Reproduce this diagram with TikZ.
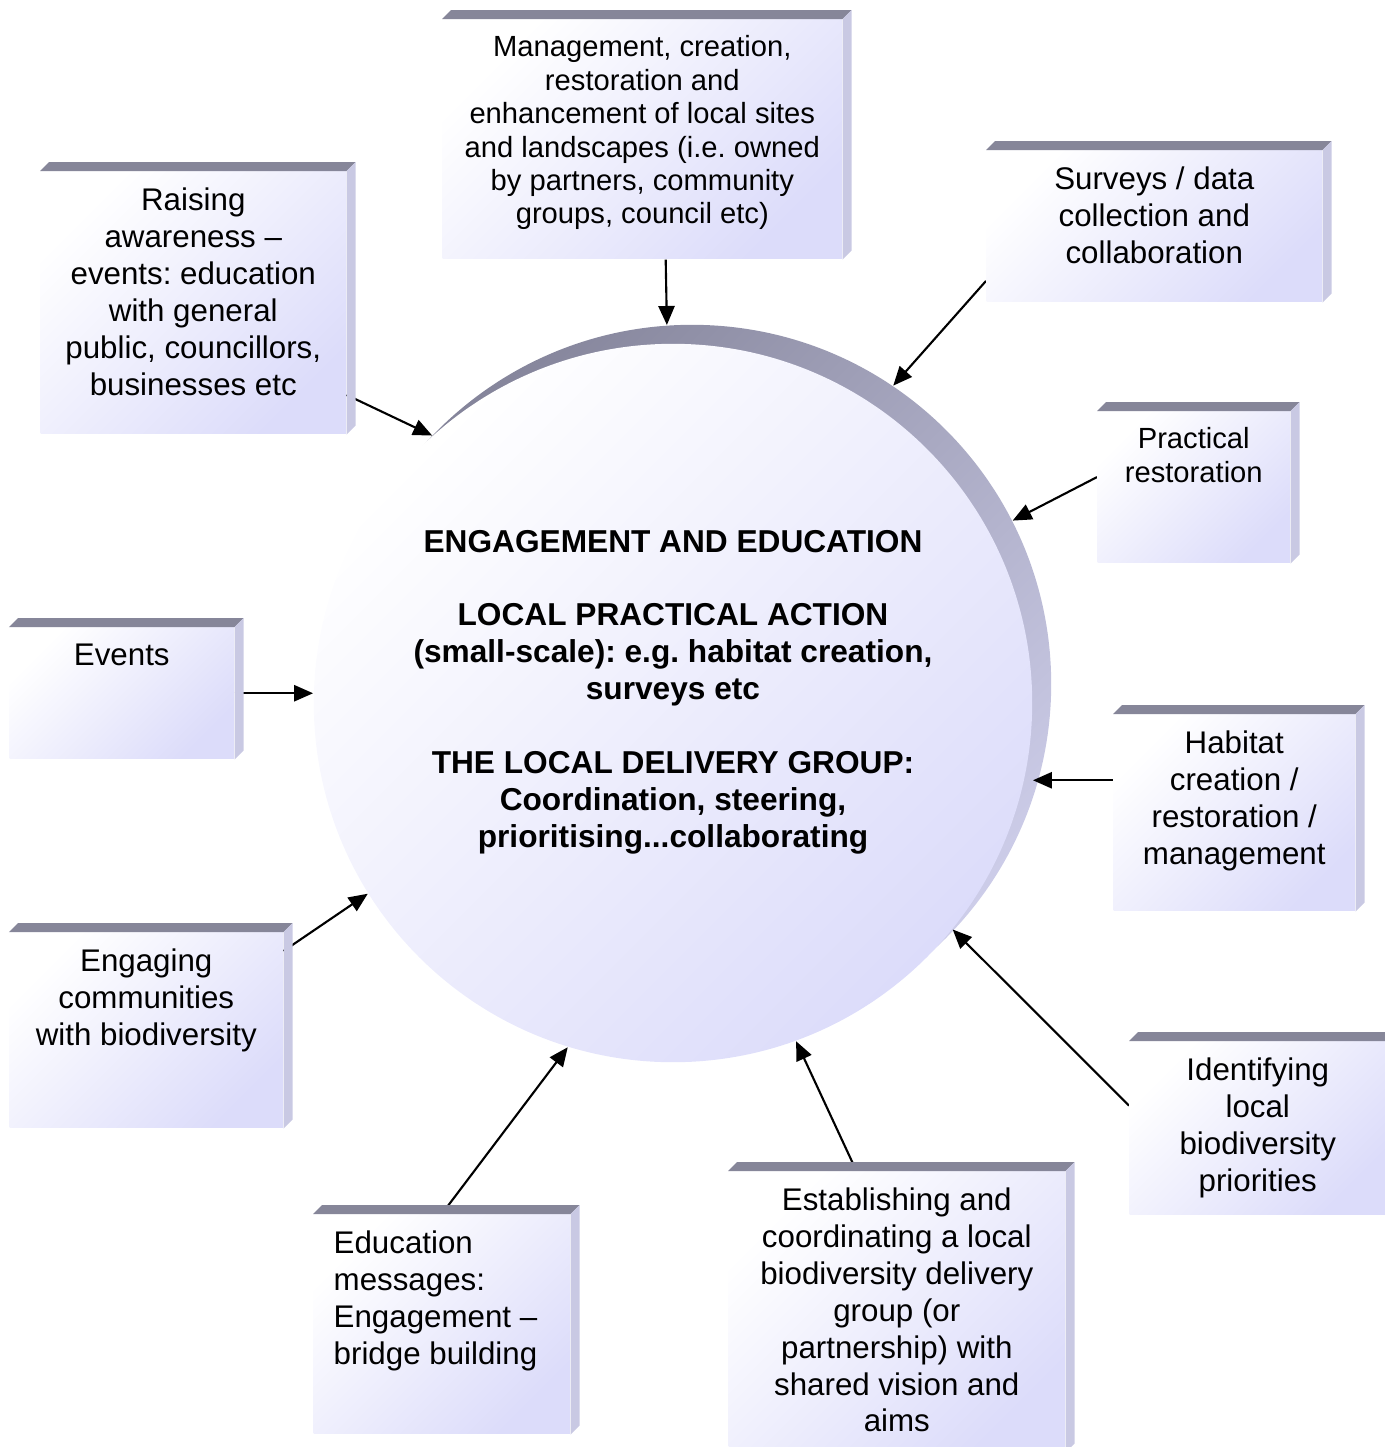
\documentclass[tikz,border=0pt]{standalone}
\usepackage{fontspec}
\setmainfont{Liberation Sans}
\usetikzlibrary{arrows.meta,positioning}
\pgfdeclarelayer{background}
\pgfsetlayers{background,main}
\definecolor{lav}{HTML}{DCDCFA}
\definecolor{bevtop}{HTML}{868699}
\definecolor{bevside}{HTML}{C9C9E3}
\definecolor{rimdark}{HTML}{85859B}
\definecolor{rimlight}{HTML}{CDCDE9}
\frenchspacing

\begin{document}
\begin{tikzpicture}[
    x=0.01cm, y=-0.01cm,
    cube/.style={rectangle, anchor=north west, inner sep=0pt, top color=white, bottom color=lav, shading angle=45},
    lbl/.style={anchor=north, align=center, inner sep=0pt, yshift=-0.16cm, font=\fontsize{8.9}{10.5}\selectfont},
    lblsmall/.style={lbl, font=\fontsize{8.3}{9.5}\selectfont},
    disk/.style={circle, minimum size=7.18cm, inner sep=0pt},
    core/.style={align=center, font=\fontsize{9}{10.5}\selectfont\bfseries},
    arrow/.style={-{Triangle[length=5.4pt,width=4.6pt]}, line width=0.6pt}
]
\useasboundingbox (0,0) rectangle (1385,1447);

% Central disc with its rim
\begin{pgfonlayer}{background}
\node[disk, top color=rimdark, bottom color=rimlight, shading angle=45] (rim) at (692,684) {};
\node[disk, top color=white, bottom color=lav, shading angle=45] (disc) at (673,703) {};
\end{pgfonlayer}

\node[core] (coretext) at (673,692) {ENGAGEMENT AND EDUCATION\\[10.5pt]
    LOCAL PRACTICAL ACTION\\
    (small-scale): e.g. habitat creation,\\
    surveys etc\\[10.5pt]
    THE LOCAL DELIVERY GROUP:\\
    Coordination, steering,\\
    prioritising...collaborating};

% Boxes round the disc
\node[cube, minimum width=3.99cm, minimum height=2.39cm,
    label={[lblsmall]north:{Management, creation,\\ restoration and\\ enhancement of local sites\\ and landscapes (i.e. owned\\ by partners, community\\ groups, council etc)}}] (mgmt) at (442,19) {};
\node[cube, minimum width=3.05cm, minimum height=2.62cm,
    label={[lbl]north:{Raising\\ awareness --\\ events: education\\ with general\\ public, councillors,\\ businesses etc}}] (raise) at (40,171) {};
\node[cube, minimum width=3.35cm, minimum height=1.51cm,
    label={[lbl]north:{Surveys / data\\ collection and\\ collaboration}}] (survey) at (986,150) {};
\node[cube, minimum width=1.92cm, minimum height=1.51cm,
    label={[lblsmall]north:{Practical\\ restoration}}] (practical) at (1097,411) {};
\node[cube, minimum width=2.24cm, minimum height=1.31cm,
    label={[lbl]north:{Events}}] (events) at (9,627) {};
\node[cube, minimum width=2.41cm, minimum height=1.96cm,
    label={[lbl]north:{Habitat\\ creation /\\ restoration /\\ management}}] (habitat) at (1113,714) {};
\node[cube, minimum width=2.73cm, minimum height=1.95cm,
    label={[lbl]north:{Engaging\\ communities\\ with biodiversity}}] (engage) at (9,932) {};
\node[cube, minimum width=2.56cm, minimum height=2.19cm,
    label={[lbl, anchor=north west, align=left, xshift=0.2cm]north west:{Education\\ messages:\\ Engagement --\\ bridge building}}] (educ) at (313,1214) {};
\node[cube, minimum width=3.36cm, minimum height=2.8cm,
    label={[lbl]north:{Establishing and\\ coordinating a local\\ biodiversity delivery\\ group (or\\ partnership) with\\ shared vision and\\ aims}}] (establish) at (728,1171) {};
\node[cube, minimum width=2.56cm, minimum height=1.73cm,
    label={[lbl]north:{Identifying\\ local\\ biodiversity\\ priorities}}] (identify) at (1129,1041) {};

% Bevelled top and side of each box
\foreach \b in {mgmt,raise,survey,practical,events,habitat,engage,educ,establish,identify}{
    \fill[bevtop] (\b.north west) -- ++(9,-9) -- ([shift={(9,-9)}]\b.north east) -- (\b.north east) -- cycle;
    \fill[bevside] (\b.north east) -- ++(9,-9) -- ([shift={(9,-9)}]\b.south east) -- (\b.south east) -- cycle;
}

% Arrows into the disc
\begin{pgfonlayer}{background}
\draw[arrow] (mgmt.-79) -- (rim.94);
\draw[arrow] (survey.198) -- (rim.56);
\draw[arrow] (raise.-31) -- (disc.132);
\draw[arrow] (practical.174) -- (rim.27);
\draw[arrow] (events.east) -- (events.east -| disc.west);
\draw[arrow] (habitat.165) -- (habitat.165 -| disc.east);
\draw[arrow] (engage.30) -- (disc.212);
\draw[arrow] (identify.170) -- (disc.-39);
\draw[arrow] (educ.north) -- (disc.253);
\draw[arrow] (establish.106) -- (disc.-70);
\end{pgfonlayer}

\end{tikzpicture}
\end{document}
